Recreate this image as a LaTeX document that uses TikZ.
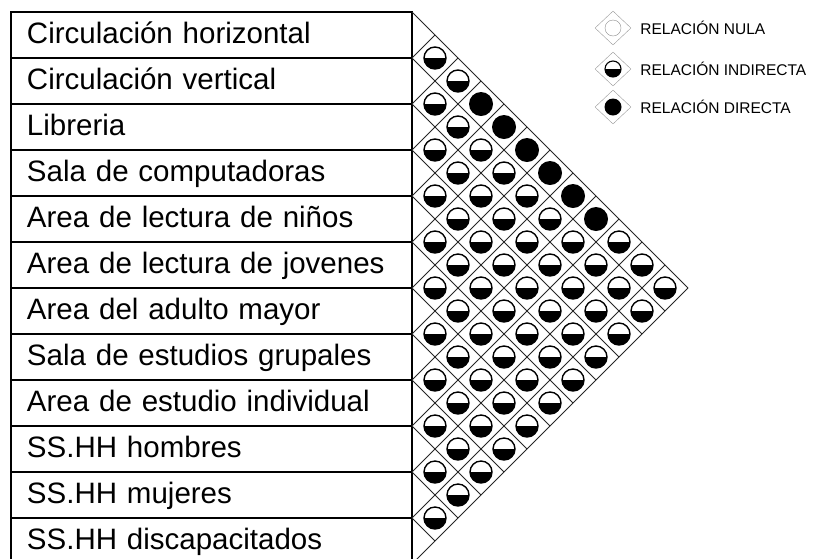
\documentclass[tikz,border=0pt]{standalone}
\usepackage{fontspec}
\setmainfont{Liberation Sans}
\usetikzlibrary{positioning, shapes.geometric, calc}

\begin{document}
\begin{tikzpicture}[
    x=1pt, y=-1pt,
    rowbox/.style={draw, line width=1.2pt, outer sep=0pt, minimum height=46pt, inner xsep=16pt, inner ysep=0pt, text width=369pt, text height=22pt, text depth=6pt, align=left, font=\fontsize{29.5}{31}\selectfont},
    grid/.style={line width=0.9pt, black!85},
    indirecta/.style={circle, draw, line width=1.4pt, minimum size=22pt, inner sep=0pt, path picture={\fill (path picture bounding box.west) rectangle (path picture bounding box.south east);}},
    directa/.style={circle, fill=black, minimum size=24pt, inner sep=0pt},
    nula/.style={circle, draw=black!45, thin, minimum size=16pt, inner sep=0pt},
    legdiam/.style={diamond, draw=black!40, thin, minimum width=36pt, minimum height=34pt, inner sep=0pt},
    legtext/.style={anchor=west, inner sep=0pt, font=\fontsize{15.5}{17}\selectfont}
]
    \useasboundingbox (0,0) rectangle (816,558);
    \clip (0,0) rectangle (816,558);

    % Spaces
    \node[rowbox, anchor=north west] (r1) at (11,12) {Circulación horizontal};
    \node[rowbox, below=0pt of r1] (r2) {Circulación vertical};
    \node[rowbox, below=0pt of r2] (r3) {Libreria};
    \node[rowbox, below=0pt of r3] (r4) {Sala de computadoras};
    \node[rowbox, below=0pt of r4] (r5) {Area de lectura de niños};
    \node[rowbox, below=0pt of r5] (r6) {Area de lectura de jovenes};
    \node[rowbox, below=0pt of r6] (r7) {Area del adulto mayor};
    \node[rowbox, below=0pt of r7] (r8) {Sala de estudios grupales};
    \node[rowbox, below=0pt of r8] (r9) {Area de estudio individual};
    \node[rowbox, below=0pt of r9] (r10) {SS.HH hombres};
    \node[rowbox, below=0pt of r10] (r11) {SS.HH mujeres};
    \node[rowbox, below=0pt of r11] (r12) {SS.HH discapacitados};

    % Matrix grid
    \foreach \k in {0,...,11}
        \draw[grid] (412,{12+46*\k}) -- ++({23*(12-\k)},{23*(12-\k)});
    \foreach \k in {1,...,12}
        \draw[grid] (412,{12+46*\k}) -- ++({23*\k},{-23*\k});

    % Relations
    \foreach \i in {1,...,11}{
        \pgfmathtruncatemacro\jstart{\i+1}
        \foreach \j in {\jstart,...,12}{
            \def\rel{indirecta}
            \ifnum\i=1 \ifnum\j>3 \ifnum\j<10 \def\rel{directa}\fi\fi\fi
            \node[\rel] (c\i-\j) at ({412+23*(\j-\i)},{12+23*(\i+\j-1)}) {};
        }
    }

    % Legend
    \node[legdiam] (ld1) at (613,28) {};
    \node[legdiam] (ld2) at (613,69) {};
    \node[legdiam] (ld3) at (613,107) {};
    \node[nula] (lc1) at (ld1) {};
    \node[indirecta, minimum size=16pt, line width=1.1pt] (lc2) at (ld2) {};
    \node[directa, minimum size=17pt] (lc3) at (ld3) {};
    \node[legtext, right=9pt of ld1] (lt1) {RELACIÓN NULA};
    \node[legtext, right=9pt of ld2] (lt2) {RELACIÓN INDIRECTA};
    \node[legtext, right=9pt of ld3] (lt3) {RELACIÓN DIRECTA};
\end{tikzpicture}
\end{document}
